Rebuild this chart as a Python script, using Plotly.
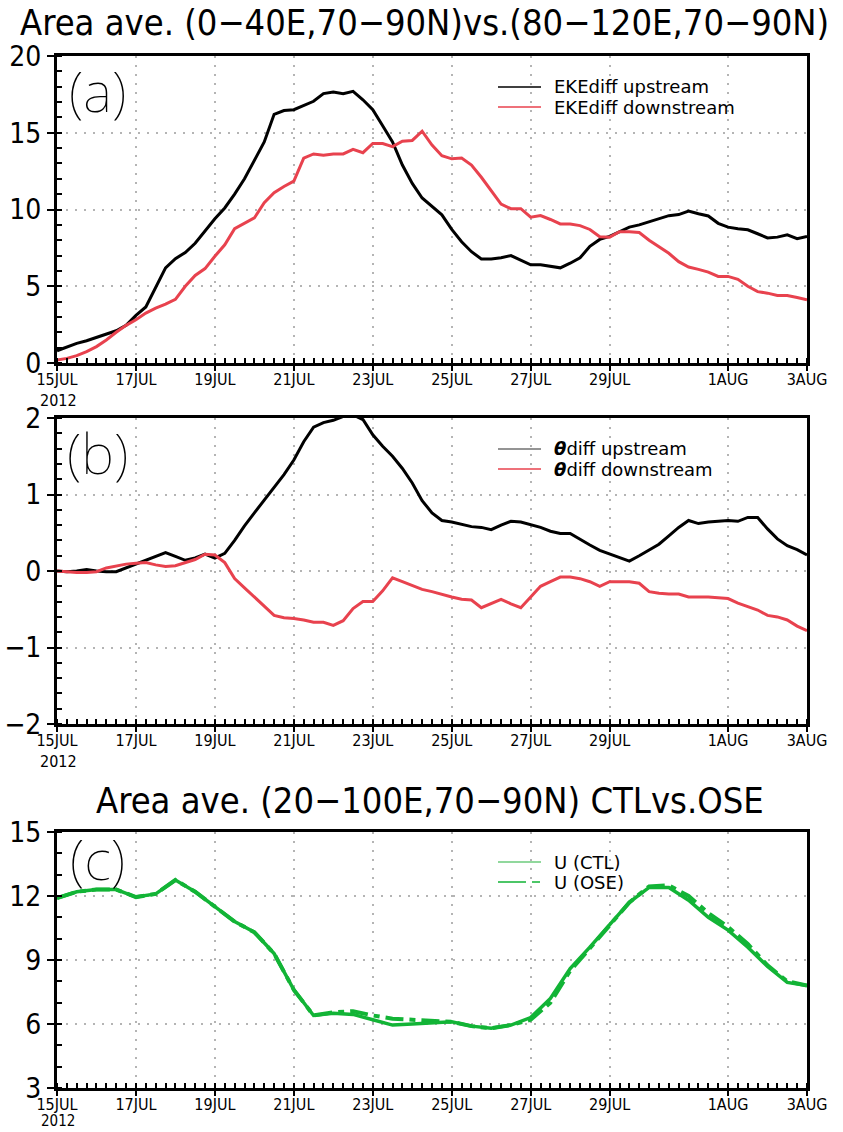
import pandas as pd
import plotly.graph_objects as go

# ---- time axes -------------------------------------------------------------
times_6h = pd.date_range("2012-07-15 00:00", "2012-08-03 00:00", freq="6h")
times_12h = pd.date_range("2012-07-15 00:00", "2012-08-03 00:00", freq="12h")

tick_dates = ["2012-07-15", "2012-07-17", "2012-07-19", "2012-07-21", "2012-07-23",
              "2012-07-25", "2012-07-27", "2012-07-29", "2012-08-01", "2012-08-03"]
tick_text = ["15JUL", "17JUL", "19JUL", "21JUL", "23JUL",
             "25JUL", "27JUL", "29JUL", "1AUG", "3AUG"]
year_text = "2012"

# ---- (a) EKE difference ----------------------------------------------------
eke_up = [0.8, 1.05, 1.28, 1.45, 1.65, 1.85, 2.1, 2.45, 3.1, 3.65, 4.95, 6.2, 6.8,
          7.2, 7.8, 8.6, 9.4, 10.1, 11.0, 12.0, 13.2, 14.4, 16.2, 16.45, 16.5, 16.8,
          17.05, 17.55, 17.65, 17.55, 17.7, 17.15, 16.5, 15.45, 14.4, 12.9, 11.7, 10.75,
          10.2, 9.65, 8.7, 7.9, 7.25, 6.78, 6.78, 6.86, 7.0, 6.72, 6.4, 6.4, 6.3, 6.2,
          6.5, 6.85, 7.6, 8.05, 8.25, 8.55, 8.85, 9.0, 9.2, 9.35, 9.6, 9.67, 9.9, 9.72,
          9.58, 9.1, 8.85, 8.75, 8.68, 8.42, 8.15, 8.2, 8.35, 8.1, 8.25]
eke_down = [0.2, 0.3, 0.48, 0.74, 1.07, 1.5, 2.0, 2.45, 2.82, 3.25, 3.57, 3.83, 4.15,
            5.0, 5.7, 6.15, 6.95, 7.7, 8.75, 9.08, 9.45, 10.45, 11.1, 11.5, 11.85, 13.35,
            13.62, 13.53, 13.62, 13.62, 13.92, 13.7, 14.3, 14.3, 14.1, 14.45, 14.5, 15.1,
            14.2, 13.5, 13.3, 13.35, 12.9, 12.1, 11.2, 10.35, 10.05, 10.05, 9.5, 9.6, 9.35,
            9.06, 9.06, 8.95, 8.7, 8.22, 8.2, 8.55, 8.55, 8.5, 8.0, 7.6, 7.15, 6.6, 6.25,
            6.1, 5.92, 5.64, 5.64, 5.45, 5.0, 4.65, 4.55, 4.4, 4.4, 4.27, 4.12]

# ---- (b) potential temperature difference ----------------------------------
theta_up = [0.0, -0.01, 0.0, 0.02, 0.0, -0.01, -0.01, 0.04, 0.09, 0.13, 0.18, 0.24, 0.19,
            0.14, 0.17, 0.22, 0.17, 0.23, 0.4, 0.59, 0.76, 0.93, 1.1, 1.26, 1.45, 1.69,
            1.88, 1.94, 1.97, 2.02, 2.04, 1.98, 1.78, 1.63, 1.5, 1.34, 1.15, 0.92, 0.76,
            0.66, 0.64, 0.61, 0.58, 0.57, 0.54, 0.6, 0.65, 0.64, 0.61, 0.57, 0.52, 0.49,
            0.49, 0.41, 0.34, 0.27, 0.22, 0.17, 0.13, 0.2, 0.28, 0.35, 0.46, 0.57, 0.66,
            0.62, 0.64, 0.65, 0.66, 0.65, 0.7, 0.7, 0.55, 0.42, 0.33, 0.28, 0.21]
theta_down = [0.0, -0.01, -0.02, -0.02, -0.01, 0.04, 0.07, 0.09, 0.1, 0.11, 0.08, 0.06,
              0.07, 0.11, 0.15, 0.22, 0.21, 0.11, -0.1, -0.22, -0.34, -0.46, -0.58, -0.61,
              -0.62, -0.64, -0.67, -0.67, -0.71, -0.65, -0.49, -0.4, -0.4, -0.26, -0.09,
              -0.14, -0.19, -0.24, -0.27, -0.31, -0.34, -0.37, -0.38, -0.48, -0.42, -0.37,
              -0.43, -0.48, -0.34, -0.2, -0.14, -0.08, -0.08, -0.1, -0.14, -0.2, -0.14,
              -0.14, -0.14, -0.16, -0.27, -0.29, -0.3, -0.3, -0.34, -0.34, -0.34, -0.35,
              -0.36, -0.42, -0.47, -0.51, -0.58, -0.6, -0.64, -0.72, -0.78]

# ---- (c) zonal wind, CTL vs OSE --------------------------------------------
u_ctl = [11.9, 12.2, 12.3, 12.3, 11.95, 12.1, 12.75, 12.2, 11.5, 10.8, 10.3, 9.3, 7.6,
         6.4, 6.5, 6.45, 6.2, 5.95, 6.0, 6.05, 6.1, 5.9, 5.8, 5.95, 6.3, 7.2, 8.6, 9.6,
         10.65, 11.7, 12.4, 12.4, 11.8, 11.0, 10.4, 9.6, 8.7, 7.95, 7.8]
u_ose = [11.9, 12.2, 12.3, 12.3, 11.95, 12.1, 12.75, 12.2, 11.5, 10.8, 10.3, 9.3, 7.6,
         6.4, 6.55, 6.6, 6.4, 6.25, 6.2, 6.15, 6.1, 5.9, 5.8, 5.95, 6.2, 7.0, 8.5, 9.55,
         10.65, 11.7, 12.45, 12.5, 12.0, 11.2, 10.55, 9.75, 8.75, 8.0, 7.8]

BLACK = "#000000"
RED = "#E8424E"
GREEN = "#12B436"
LIGHT_GREEN = "#6CCB7C"
TXT_FONT = "Liberation Sans Narrow, DejaVu Sans Condensed, Arial Narrow, sans-serif"
LEG_FONT = "DejaVu Sans, sans-serif"
THIN_FONT = "Noto Sans, Inter, Lato, sans-serif"

W, H = 843, 1132


def px(x):
    return x / W


def py(y):
    return 1 - y / H


fig = go.Figure()

fig.add_trace(go.Scatter(x=times_6h, y=eke_up, mode="lines", line=dict(color=BLACK, width=3),
                         xaxis="x", yaxis="y", showlegend=False))
fig.add_trace(go.Scatter(x=times_6h, y=eke_down, mode="lines", line=dict(color=RED, width=3),
                         xaxis="x", yaxis="y", showlegend=False))
fig.add_trace(go.Scatter(x=times_6h, y=theta_up, mode="lines", line=dict(color=BLACK, width=3),
                         xaxis="x2", yaxis="y2", showlegend=False))
fig.add_trace(go.Scatter(x=times_6h, y=theta_down, mode="lines", line=dict(color=RED, width=3),
                         xaxis="x2", yaxis="y2", showlegend=False))
fig.add_trace(go.Scatter(x=times_12h, y=u_ose, mode="lines",
                         line=dict(color=GREEN, width=4, dash="18px,6px,6px,6px"),
                         xaxis="x3", yaxis="y3", showlegend=False))
fig.add_trace(go.Scatter(x=times_12h, y=u_ctl, mode="lines", line=dict(color=GREEN, width=3.5),
                         xaxis="x3", yaxis="y3", showlegend=False))

xdom = [px(57), px(807)]
panel_px = {"": (56, 363), "2": (418, 724), "3": (832, 1088)}
doms = {k: [py(b), py(t)] for k, (t, b) in panel_px.items()}

GRID = "#b4b4b4"
common_x = dict(
    type="date", range=["2012-07-15", "2012-08-03"], domain=xdom,
    tickmode="array", tickvals=tick_dates, ticktext=tick_text,
    ticks="outside", ticklen=5, tickwidth=2, tickcolor="black", ticklabelstandoff=-5,
    showline=True, linewidth=3, linecolor="black", mirror=True,
    showgrid=True, gridcolor=GRID, griddash="2px,7px", gridwidth=1.5,
    tickfont=dict(family=TXT_FONT, size=16, color="black"),
    minor=dict(ticks="inside", ticklen=5, tickcolor="black", dtick=6 * 3600 * 1000,
               showgrid=False),
    zeroline=False, fixedrange=True, automargin=False,
)
common_y = dict(
    ticks="outside", ticklen=7, tickwidth=2, tickcolor="black",
    showline=True, linewidth=3, linecolor="black", mirror=True,
    showgrid=True, gridcolor=GRID, griddash="2px,7px", gridwidth=1.5,
    tickfont=dict(family=TXT_FONT, size=28, color="black"),
    zeroline=False, fixedrange=True, automargin=False,
)

fig.update_layout(
    width=W, height=H,
    margin=dict(l=0, r=0, t=0, b=0, autoexpand=False),
    paper_bgcolor="white", plot_bgcolor="white",
    showlegend=False,
    xaxis=dict(common_x, anchor="y"),
    xaxis2=dict(common_x, anchor="y2"),
    xaxis3=dict(common_x, anchor="y3"),
    yaxis=dict(common_y, anchor="x", domain=doms[""], range=[0, 20], dtick=5,
               minor=dict(ticks="inside", ticklen=5, dtick=1, tickcolor="black")),
    yaxis2=dict(common_y, anchor="x2", domain=doms["2"], range=[-2, 2], dtick=1,
                minor=dict(ticks="inside", ticklen=5, dtick=0.2, tickcolor="black")),
    yaxis3=dict(common_y, anchor="x3", domain=doms["3"], range=[3, 15], dtick=3,
                minor=dict(ticks="inside", ticklen=5, dtick=1, tickcolor="black")),
)

annotations = [
    dict(text="Area ave. (0−40E,70−90N)vs.(80−120E,70−90N)", x=px(424), y=py(22),
         font=dict(family=TXT_FONT, size=36, color="black")),
    dict(text="Area ave. (20−100E,70−90N) CTLvs.OSE", x=px(430), y=py(800),
         font=dict(family=TXT_FONT, size=36, color="black")),
]
for lab, yy in (("(a)", 90), ("(b)", 452), ("(c)", 858)):
    annotations.append(dict(text=lab, x=px(97), y=py(yy), xanchor="center",
                            font=dict(family=THIN_FONT, size=56, color="black", weight=100)))
# year line under the first date of the upper two panels
for key in ("", "2"):
    bottom = panel_px[key][1]
    annotations.append(dict(text=year_text, x=px(58), y=py(bottom + 37), xanchor="center",
                            font=dict(family=TXT_FONT, size=16, color="black")))
# the lowest panel's year sits on the bottom edge of the page
annotations.append(dict(text=year_text, x=px(58), y=0, xanchor="center", yanchor="bottom",
                        font=dict(family=TXT_FONT, size=15, color="black")))

legend_rows = [
    (87, "EKEdiff upstream", BLACK, None),
    (107, "EKEdiff downstream", RED, None),
    (449, "<b><i>θ</i></b>diff upstream", "#707070", None),
    (469, "<b><i>θ</i></b>diff downstream", RED, None),
    (862, "U (CTL)", LIGHT_GREEN, None),
    (882, "U (OSE)", GREEN, "28px,6px,8px,6px"),
]
shapes = []
for yy, label, col, dash in legend_rows:
    shapes.append(dict(type="line", xref="paper", yref="paper",
                       x0=px(498), x1=px(541), y0=py(yy), y1=py(yy),
                       line=dict(color=col, width=1.6, dash=dash or "solid")))
    annotations.append(dict(text=label, x=px(552), y=py(yy), xanchor="left",
                            font=dict(family=LEG_FONT, size=18, color="black")))

for a in annotations:
    a.setdefault("xref", "paper")
    a.setdefault("yref", "paper")
    a.setdefault("showarrow", False)
    a.setdefault("yanchor", "middle")

fig.update_layout(annotations=annotations, shapes=shapes)

fig.write_html("out.html")
